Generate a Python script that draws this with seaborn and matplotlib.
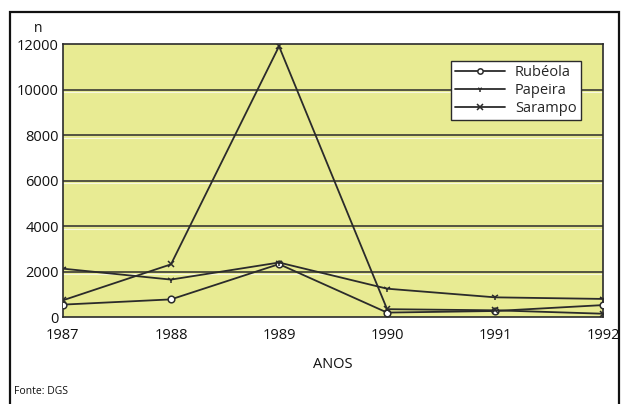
import matplotlib
matplotlib.use("Agg")
import matplotlib.pyplot as plt
import seaborn as sns
import pandas as pd
from matplotlib.patches import Rectangle

# Notified cases per year (DGS)
anos = [1987, 1988, 1989, 1990, 1991, 1992]
rubeola = [550, 780, 2330, 200, 270, 530]
papeira = [2130, 1650, 2400, 1250, 870, 800]
sarampo = [740, 2320, 11900, 350, 300, 150]
doencas = ["Rubéola", "Papeira", "Sarampo"]
y_ticks = [0, 2000, 4000, 6000, 8000, 10000, 12000]

df = pd.DataFrame({
    "ano": anos * 3,
    "n": rubeola + papeira + sarampo,
    "doenca": [d for d in doencas for _ in anos],
})

sns.set_theme(style="white")
plt.rcParams["font.family"] = ["Open Sans", "DejaVu Sans"]

ink = "#2b2b2b"
fig = plt.figure(figsize=(6.29, 4.04), dpi=100)
ax = fig.add_axes([0.100, 0.215, 0.859, 0.676])
ax.set_facecolor("#e8eb93")

# horizontal grid bands
for v in y_ticks[1:-1]:
    ax.axhline(v, color=ink, lw=1.1, zorder=1)
    ax.axhline(v - 110, color="#f8f8e0", lw=0.8, zorder=1)

markers = {"Rubéola": "o", "Papeira": "1", "Sarampo": "x"}
for d in doencas:
    sub = df[df["doenca"] == d]
    sns.lineplot(data=sub, x="ano", y="n", color=ink, marker=markers[d],
                 lw=1.3, markersize=4.8, markerfacecolor="white",
                 markeredgecolor=ink, markeredgewidth=1.1, ax=ax, zorder=3,
                 label=d)

ax.set_xlim(anos[0], anos[-1])
ax.set_ylim(0, 12000)
ax.set_xticks(anos)
ax.set_yticks(y_ticks)
ax.set_xticklabels([str(a) for a in anos], fontsize=10.5, color="#111")
ax.set_yticklabels([str(v) for v in y_ticks], fontsize=10.5, color="#111")
ax.tick_params(axis="x", length=4, width=0.8, direction="in", pad=8, colors=ink)
ax.tick_params(axis="x", labelcolor="#111")
ax.tick_params(axis="y", length=0, pad=3)
for s in ax.spines.values():
    s.set_color(ink)
    s.set_linewidth(1.2)

ax.set_xlabel("ANOS", fontsize=10.5, color="#111", labelpad=10)
ax.set_ylabel("")
ax.text(-0.045, 1.03, "n", transform=ax.transAxes, fontsize=10,
        color="#111", ha="center", va="bottom")

leg = ax.legend(loc="upper right", bbox_to_anchor=(0.972, 0.965), frameon=True,
                fontsize=10.5, handlelength=3.4, borderpad=0.3,
                labelspacing=0.2, handletextpad=0.7, fancybox=False,
                markerscale=0.8)
leg.get_frame().set_edgecolor(ink)
leg.get_frame().set_linewidth(1.0)
leg.get_frame().set_facecolor("white")
leg.get_frame().set_alpha(1)

fig.text(0.022, 0.025, "Fonte: DGS", fontsize=7.5, color="#111")

# outer frame
fig.patches.append(Rectangle((0.016, -0.05), 0.968, 1.02, transform=fig.transFigure,
                             fill=False, edgecolor="#111", lw=1.6))

fig.savefig("out.png", dpi=100, facecolor="white")
